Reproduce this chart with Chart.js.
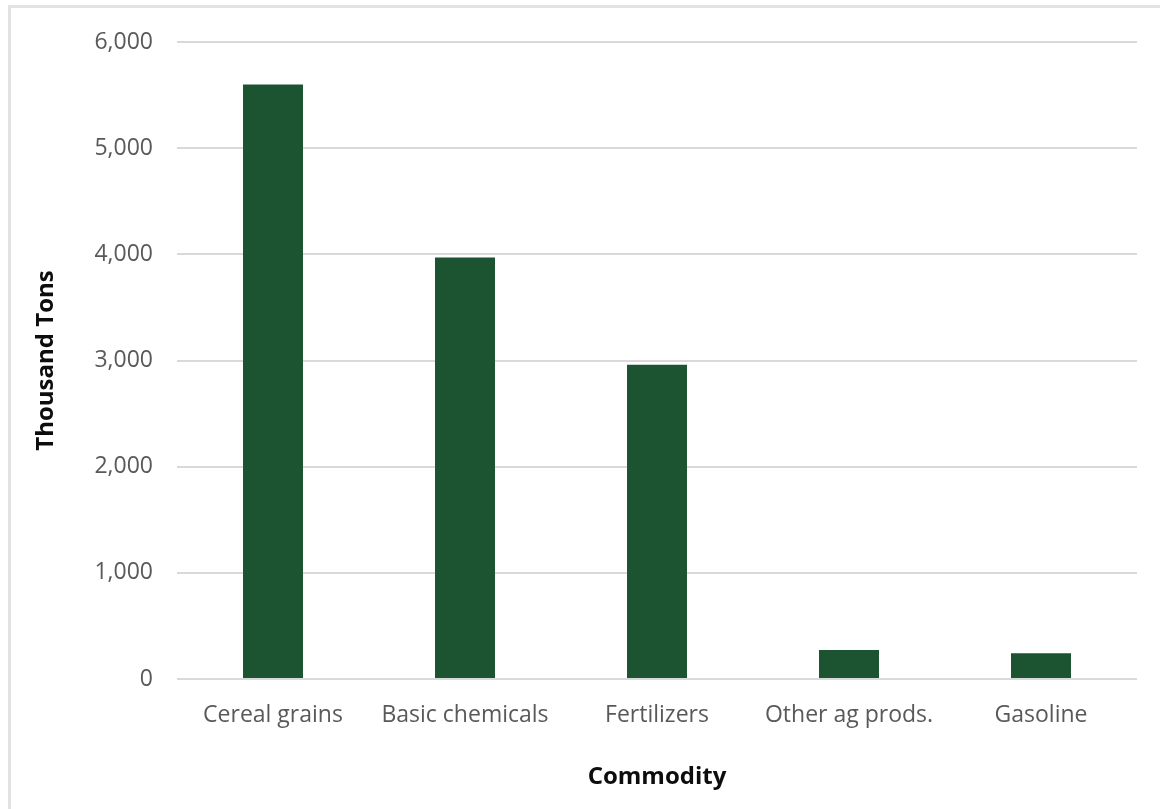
<!DOCTYPE html>
<html>
<head>
<meta charset="utf-8">
<script src="https://cdn.jsdelivr.net/npm/chart.js@4/dist/chart.umd.min.js"></script>
<style>
  html, body { margin: 0; padding: 0; background: #ffffff; }
  #wrap { position: relative; width: 1160px; height: 809px; overflow: hidden; }
  #frame {
    position: absolute; left: 8px; top: 5px; right: -10px; bottom: -10px;
    border-left: 3px solid #e2e2e2; border-top: 3px solid #e2e2e2;
    pointer-events: none;
  }
  canvas { position: absolute; left: 0; top: 0; }
</style>
</head>
<body>
<div id="wrap">
  <canvas id="chart" width="1160" height="809"></canvas>
  <div id="frame"></div>
</div>
<script>
// Tonnage by commodity (thousand tons)
const commodities = ['Cereal grains', 'Basic chemicals', 'Fertilizers', 'Other ag prods.', 'Gasoline'];
const thousandTons = [5600, 3970, 2960, 273, 243];
const yTicks = [0, 1000, 2000, 3000, 4000, 5000, 6000];

const FONT = "'Open Sans', 'Noto Sans', 'DejaVu Sans', sans-serif";

new Chart(document.getElementById('chart'), {
  type: 'bar',
  data: {
    labels: commodities,
    datasets: [{
      data: thousandTons,
      backgroundColor: '#1c5432',
      borderWidth: 0,
      barPercentage: 0.625,
      categoryPercentage: 0.5
    }]
  },
  options: {
    responsive: false,
    animation: false,
    devicePixelRatio: 1,
    layout: { padding: { top: 42, right: 23, bottom: 0, left: 0 } },
    plugins: { legend: { display: false }, tooltip: { enabled: false } },
    scales: {
      x: {
        grid: { display: false },
        border: { display: false },
        ticks: { color: '#595959', font: { family: FONT, size: 23 }, padding: 15, maxRotation: 0 },
        title: {
          display: true, text: 'Commodity', color: '#0d0d0d',
          font: { family: FONT, size: 24, weight: 'bold' },
          padding: { top: 0, bottom: 17 }
        },
        afterFit: (s) => { s.height = 130; }
      },
      y: {
        min: 0, max: 6000,
        afterBuildTicks: (s) => { s.ticks = yTicks.map(v => ({ value: v })); },
        grid: { color: '#d9d9d9', lineWidth: 2, drawTicks: false },
        border: { display: false },
        ticks: {
          color: '#595959', font: { family: FONT, size: 23 }, padding: 24,
          callback: (v) => Number(v).toLocaleString('en-US')
        },
        title: {
          display: true, text: 'Thousand Tons', color: '#0d0d0d',
          font: { family: FONT, size: 24, weight: 'bold' },
          padding: { top: 32, bottom: 0 }
        },
        afterFit: (s) => { s.width = 177; }
      }
    }
  }
});
</script>
</body>
</html>
